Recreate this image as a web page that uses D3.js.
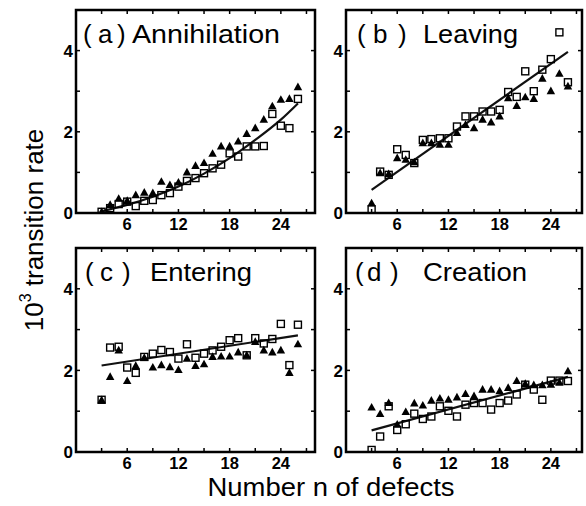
<!DOCTYPE html>
<html>
<head>
<meta charset="utf-8">
<script src="https://cdn.jsdelivr.net/npm/d3@7"></script>
<style>
  html, body { margin: 0; padding: 0; background: #fff; }
  svg { display: block; font-family: Arial, "Liberation Sans", sans-serif; }
</style>
</head>
<body>
<svg id="chart" width="586" height="506"></svg>
<script>
// transition rate vs number of defects, four panels

const defects = [3,4,5,6,7,8,9,10,11,12,13,14,15,16,17,18,19,20,21,22,23,24,25,26];

// (a) Annihilation
const annTri = [0.02,0.2,0.35,0.3,0.44,0.5,0.49,0.77,0.69,0.75,1.0,1.16,1.23,1.46,1.64,1.64,1.76,1.95,2.09,2.3,2.63,2.79,2.81,3.1];
const annSq  = [0.03,0.12,0.22,0.28,0.17,0.3,0.32,0.44,0.49,0.65,0.79,0.86,0.98,1.1,1.19,1.47,1.39,1.64,1.64,1.65,2.44,2.15,2.09,2.81];
const annFitN = [3,6,9,12,15,18,21,24,26];
const annFitV = [0.04,0.2,0.4,0.65,0.97,1.35,1.8,2.3,2.7];

// (b) Leaving
const leaTri = [0.24,0.98,0.96,1.35,1.31,1.25,1.72,1.72,1.68,1.68,1.97,2.17,2.09,2.3,2.23,2.38,2.83,2.64,2.85,2.81,3.31,3.0,3.43,3.12];
const leaSq  = [0.09,1.02,0.94,1.57,1.43,1.23,1.8,1.82,1.84,1.84,2.13,2.38,2.38,2.5,2.5,2.54,2.98,2.86,3.49,3.0,3.53,3.79,4.45,3.22];
const leaFitN = [3,26];
const leaFitV = [0.57,3.97];

// (c) Entering
const entTri = [1.27,1.84,2.49,1.74,2.11,2.31,2.07,2.13,2.08,2.01,2.29,2.11,2.15,2.33,2.34,2.34,2.44,2.37,2.7,2.49,2.44,2.49,1.94,2.64];
const entSq  = [1.28,2.56,2.58,2.07,1.94,2.33,2.41,2.5,2.45,2.29,2.64,2.31,2.41,2.49,2.58,2.74,2.79,2.37,2.79,2.66,2.77,3.14,2.13,3.12];
const entFitN = [3,26];
const entFitV = [2.12,2.86];

// (d) Creation
const creTri = [1.09,0.93,1.2,0.67,0.98,1.19,1.14,1.26,1.31,1.28,1.34,1.42,1.37,1.53,1.53,1.49,1.57,1.74,1.67,1.64,1.64,1.65,1.7,1.98];
const creSq  = [0.05,0.38,1.12,0.54,0.68,0.94,0.81,0.87,1.12,1.01,0.87,1.16,1.2,1.2,1.04,1.2,1.26,1.41,1.65,1.53,1.28,1.75,1.75,1.74];
const creFitN = [3,26];
const creFitV = [0.53,1.84];

const xTickVals = [3,6,9,12,15,18,21,24,27];
const xTickLabels = [6,12,18,24];
const yTickVals = [1,2,3,4];
const yTickLabels = [0,2,4];

const panels = [
  { letter: "a", name: "Annihilation", tri: annTri, sq: annSq, fitN: annFitN, fitV: annFitV, col: 0, row: 0, off: [7,22,41,56], wordW: 148 },
  { letter: "b", name: "Leaving",      tri: leaTri, sq: leaSq, fitN: leaFitN, fitV: leaFitV, col: 1, row: 0, off: [11,27,52,77], wordW: 95 },
  { letter: "c", name: "Entering",     tri: entTri, sq: entSq, fitN: entFitN, fitV: entFitV, col: 0, row: 1, off: [9,24,46,74], wordW: 102 },
  { letter: "d", name: "Creation",     tri: creTri, sq: creSq, fitN: creFitN, fitV: creFitV, col: 1, row: 1, off: [9,21,44,77], wordW: 104 }
];

const cols = [{ left: 76, right: 315 }, { left: 346, right: 582 }];
const rows = [{ top: 10, bottom: 213 }, { top: 248, bottom: 452 }];
const pxPerUnit = 239 / 28;

const svg = d3.select("#chart");

function triPath(cx, cy, s){
  const h = s * 0.9;
  return `M${cx},${cy - h*0.6}L${cx + s/2},${cy + h*0.4}L${cx - s/2},${cy + h*0.4}Z`;
}

panels.forEach(p => {
  const c = cols[p.col], r = rows[p.row];
  const x = d3.scaleLinear().domain([0, 28]).range([c.left, c.left + pxPerUnit*28]);
  const y = d3.scaleLinear().domain([0, 5]).range([r.bottom, r.top]);
  const g = svg.append("g");

  // clip so the longer x range of the right column stays inside its frame
  const clipId = "clip-" + p.letter;
  svg.append("clipPath").attr("id", clipId)
    .append("rect").attr("x", c.left).attr("y", r.top)
    .attr("width", c.right - c.left).attr("height", r.bottom - r.top);

  const plot = g.append("g").attr("clip-path", `url(#${clipId})`);

  // fit line
  const line = d3.line().x(d => x(d[0])).y(d => y(d[1])).curve(d3.curveMonotoneX);
  plot.append("path")
    .datum(p.fitN.map((n,i) => [n, p.fitV[i]]))
    .attr("d", line)
    .attr("fill", "none")
    .attr("stroke", "#111")
    .attr("stroke-width", 2.2);

  // triangles
  plot.selectAll("path.tri")
    .data(defects.map((n,i) => [n, p.tri[i]]))
    .enter().append("path")
    .attr("class", "tri")
    .attr("d", d => triPath(x(d[0]), y(d[1]), 8.5))
    .attr("fill", "#000");

  // open squares
  plot.selectAll("rect.sq")
    .data(defects.map((n,i) => [n, p.sq[i]]))
    .enter().append("rect")
    .attr("class", "sq")
    .attr("x", d => x(d[0]) - 3.5)
    .attr("y", d => y(d[1]) - 3.5)
    .attr("width", 7)
    .attr("height", 7)
    .attr("fill", "none")
    .attr("stroke", "#000")
    .attr("stroke-width", 1.4);

  // inward ticks on all four sides
  const tl = 4;
  xTickVals.forEach(v => {
    g.append("line").attr("x1", x(v)).attr("x2", x(v)).attr("y1", r.bottom).attr("y2", r.bottom - tl).attr("stroke", "#000").attr("stroke-width", 1.5);
    g.append("line").attr("x1", x(v)).attr("x2", x(v)).attr("y1", r.top).attr("y2", r.top + tl).attr("stroke", "#000").attr("stroke-width", 1.5);
  });
  yTickVals.forEach(v => {
    g.append("line").attr("x1", c.left).attr("x2", c.left + tl).attr("y1", y(v)).attr("y2", y(v)).attr("stroke", "#000").attr("stroke-width", 1.5);
    g.append("line").attr("x1", c.right).attr("x2", c.right - tl).attr("y1", y(v)).attr("y2", y(v)).attr("stroke", "#000").attr("stroke-width", 1.5);
  });

  // frame
  g.append("rect")
    .attr("x", c.left).attr("y", r.top)
    .attr("width", c.right - c.left).attr("height", r.bottom - r.top)
    .attr("fill", "none").attr("stroke", "#000").attr("stroke-width", 2.5);

  // tick labels
  g.selectAll("text.xl").data(xTickLabels).enter().append("text")
    .attr("x", d => x(d)).attr("y", r.bottom + 17)
    .attr("text-anchor", "middle")
    .attr("font-size", 16.5).attr("font-weight", "bold")
    .text(d => d);
  g.selectAll("text.yl").data(yTickLabels).enter().append("text")
    .attr("x", c.left - 3).attr("y", d => y(d))
    .attr("dy", "0.36em")
    .attr("text-anchor", "end")
    .attr("font-size", 17).attr("font-weight", "bold")
    .text(d => d);

  // panel title: "( a )  Name"
  const ty = r.top + 33;
  const parts = ["(", p.letter, ")"];
  parts.forEach((t, i) => {
    g.append("text").attr("x", c.left + p.off[i]).attr("y", ty)
      .attr("font-size", 26).text(t);
  });
  g.append("text").attr("x", c.left + p.off[3]).attr("y", ty)
    .attr("font-size", 26)
    .attr("textLength", p.wordW).attr("lengthAdjust", "spacingAndGlyphs")
    .text(p.name);
});

// axis titles
svg.append("text")
  .attr("x", 331).attr("y", 496)
  .attr("text-anchor", "middle")
  .attr("font-size", 25)
  .attr("textLength", 247).attr("lengthAdjust", "spacingAndGlyphs")
  .text("Number n of defects");

const yTitle = svg.append("text")
  .attr("transform", "translate(43,230) rotate(-90)")
  .attr("text-anchor", "middle")
  .attr("font-size", 26);
yTitle.append("tspan").text("10");
yTitle.append("tspan").attr("font-size", 16).attr("dy", -12).text("3");
yTitle.append("tspan").attr("dy", 12).text(" transition rate");
</script>
</body>
</html>
